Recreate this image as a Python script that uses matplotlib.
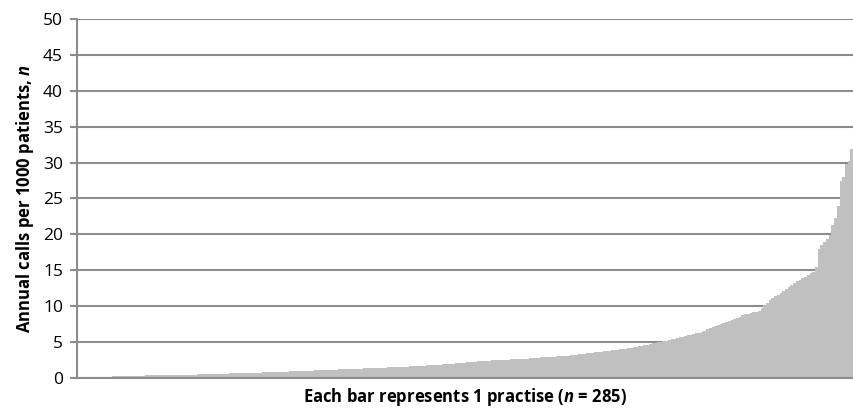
import matplotlib
matplotlib.use('Agg')
import matplotlib.pyplot as plt
import numpy as np

plt.rcParams['font.family'] = ['Open Sans', 'DejaVu Sans']
plt.rcParams['mathtext.fontset'] = 'custom'
plt.rcParams['mathtext.it'] = 'Open Sans:italic:bold'

# annual calls per 1000 patients, one value per practise, sorted ascending
calls = [
    0.05, 0.07, 0.09, 0.10, 0.11, 0.12, 0.13, 0.14, 0.15, 0.16,
    0.17, 0.18, 0.19, 0.20, 0.21, 0.22, 0.24, 0.26, 0.28, 0.30,
    0.31, 0.32, 0.32, 0.33, 0.33, 0.34, 0.34, 0.35, 0.35, 0.36,
    0.36, 0.37, 0.37, 0.38, 0.39, 0.39, 0.40, 0.41, 0.42, 0.43,
    0.44, 0.45, 0.46, 0.47, 0.48, 0.49, 0.50, 0.52, 0.53, 0.55,
    0.56, 0.57, 0.58, 0.59, 0.60, 0.61, 0.62, 0.63, 0.64, 0.65,
    0.66, 0.67, 0.69, 0.70, 0.71, 0.72, 0.73, 0.74, 0.76, 0.77,
    0.78, 0.79, 0.81, 0.82, 0.85, 0.86, 0.88, 0.89, 0.91, 0.92,
    0.94, 0.95, 0.97, 0.98, 1.00, 1.01, 1.03, 1.04, 1.06, 1.07,
    1.09, 1.10, 1.12, 1.13, 1.15, 1.16, 1.18, 1.20, 1.21, 1.22,
    1.24, 1.25, 1.27, 1.28, 1.30, 1.31, 1.33, 1.35, 1.36, 1.38,
    1.39, 1.41, 1.42, 1.44, 1.45, 1.47, 1.49, 1.50, 1.52, 1.54,
    1.55, 1.57, 1.60, 1.62, 1.64, 1.66, 1.68, 1.70, 1.73, 1.76,
    1.78, 1.80, 1.83, 1.86, 1.89, 1.92, 1.95, 1.97, 2.00, 2.04,
    2.07, 2.10, 2.14, 2.17, 2.21, 2.25, 2.28, 2.31, 2.34, 2.37,
    2.39, 2.41, 2.43, 2.45, 2.47, 2.49, 2.51, 2.53, 2.55, 2.57,
    2.59, 2.61, 2.63, 2.65, 2.68, 2.70, 2.73, 2.77, 2.80, 2.84,
    2.87, 2.90, 2.92, 2.94, 2.96, 2.98, 3.00, 3.02, 3.05, 3.07,
    3.10, 3.14, 3.18, 3.22, 3.26, 3.30, 3.35, 3.40, 3.45, 3.50,
    3.55, 3.60, 3.65, 3.70, 3.75, 3.80, 3.85, 3.90, 3.95, 4.00,
    4.04, 4.08, 4.12, 4.20, 4.28, 4.36, 4.44, 4.50, 4.58, 4.65,
    4.72, 4.80, 4.87, 4.94, 5.00, 5.08, 5.17, 5.26, 5.35, 5.45,
    5.55, 5.64, 5.73, 5.82, 5.91, 6.00, 6.10, 6.20, 6.32, 6.45,
    6.60, 6.78, 6.95, 7.15, 7.28, 7.42, 7.56, 7.70, 7.85, 7.98,
    8.12, 8.26, 8.40, 8.55, 8.70, 8.85, 8.95, 9.05, 9.12, 9.18,
    9.25, 9.70, 10.2, 10.5, 10.8, 11.1, 11.35, 11.6, 11.8, 12.1,
    12.4, 12.7, 13.0, 13.2, 13.45, 13.65, 13.9, 14.1, 14.35, 14.6,
    14.8, 15.4, 18.0, 18.5, 18.9, 19.3, 19.9, 21.3, 22.3, 24.0,
    27.5, 28.0, 29.8, 30.2, 31.9,
]
yticks = [0, 5, 10, 15, 20, 25, 30, 35, 40, 45, 50]

fig = plt.figure(figsize=(8.54, 4.13), dpi=100)
ax = fig.add_axes([0.090, 0.085, 0.909, 0.869])

x = np.arange(len(calls))
ax.bar(x, calls, width=1.0, color='#c0c0c0', linewidth=0, zorder=3)

ax.set_xlim(-0.5, len(calls) - 0.5)
ax.set_ylim(0, 50)
ax.set_yticks(yticks)
ax.set_xticks([])
ax.yaxis.grid(True, color='#8c8c8c', linewidth=1.5, zorder=0)
ax.set_axisbelow(True)

for s in ['top', 'right']:
    ax.spines[s].set_visible(False)
ax.spines['left'].set_color('#8c8c8c')
ax.spines['left'].set_linewidth(1.5)
ax.spines['bottom'].set_color('#8c8c8c')
ax.spines['bottom'].set_linewidth(1.5)
ax.spines['bottom'].set_zorder(4)
ax.tick_params(axis='y', length=5, width=1.5, color='#8c8c8c', labelsize=12.5, pad=5)

ax.set_ylabel('Annual calls per 1000 patients, $\\mathit{n}$', fontsize=12,
              fontweight='bold', labelpad=5)
ax.set_xlabel('Each bar represents 1 practise ($\\mathit{n}$ = 285)', fontsize=12,
              fontweight='bold', labelpad=6)

plt.savefig('out.png', dpi=100)
